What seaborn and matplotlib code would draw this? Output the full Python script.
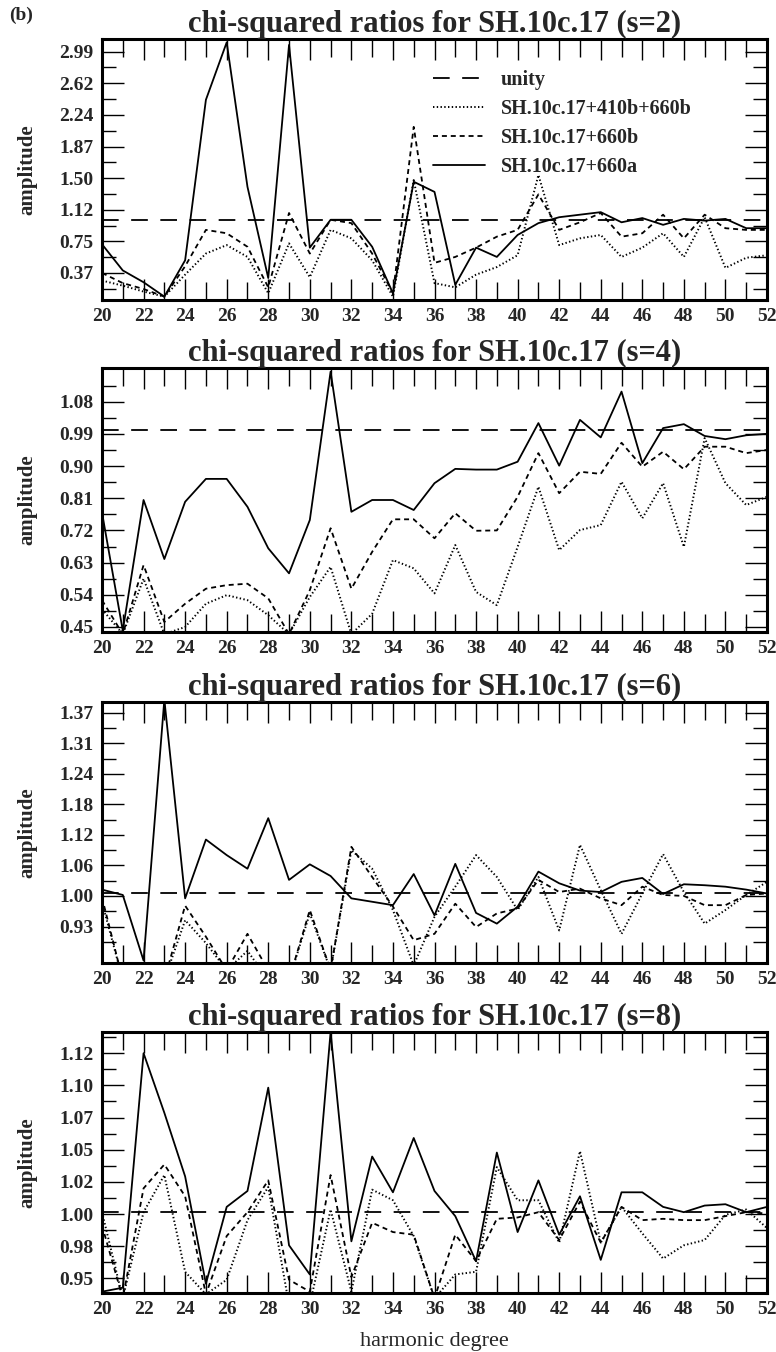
import numpy as np
import pandas as pd
import matplotlib
matplotlib.use("Agg")
import matplotlib.pyplot as plt
from matplotlib.ticker import FixedLocator
import seaborn as sns

sns.set_style("ticks")
plt.rcParams['font.family'] = ['Liberation Serif', 'DejaVu Serif']
plt.rcParams['font.weight'] = 'bold'
plt.rcParams['lines.scale_dashes'] = False

# ---------------- data ----------------
degree = [20, 21, 22, 23, 24, 25, 26, 27, 28, 29, 30, 31, 32, 33, 34, 35, 36,
          37, 38, 39, 40, 41, 42, 43, 44, 45, 46, 47, 48, 49, 50, 51, 52]

UNITY = 1.0
series_names = ["SH.10c.17+410b+660b", "SH.10c.17+660b", "SH.10c.17+660a"]

# s = 2
dotted_s2 = [0.28, 0.22, 0.15, 0.09, 0.35, 0.60, 0.70, 0.56, 0.13, 0.72, 0.32, 0.88, 0.78,
             0.52, 0.09, 1.47, 0.25, 0.20, 0.35, 0.44, 0.58, 1.53, 0.70, 0.78, 0.82, 0.56,
             0.67, 0.84, 0.56, 1.03, 0.43, 0.55, 0.58]
dashed_s2 = [0.37, 0.25, 0.18, 0.09, 0.45, 0.88, 0.84, 0.68, 0.20, 1.08, 0.60, 1.00, 0.96,
             0.60, 0.13, 2.10, 0.49, 0.56, 0.67, 0.80, 0.88, 1.30, 0.88, 0.97, 1.08, 0.80,
             0.84, 1.06, 0.78, 1.06, 0.90, 0.88, 0.88]
solid_s2 = [0.71, 0.40, 0.26, 0.09, 0.52, 2.42, 3.10, 1.39, 0.31, 3.07, 0.67, 1.00, 1.00,
            0.68, 0.13, 1.45, 1.33, 0.23, 0.67, 0.56, 0.82, 0.96, 1.03, 1.06, 1.09, 0.97,
            1.02, 0.94, 1.01, 0.99, 1.01, 0.90, 0.90]

# s = 4
dotted_s4 = [0.50, 0.43, 0.585, 0.43, 0.45, 0.515, 0.539, 0.525, 0.483, 0.43, 0.534, 0.618,
             0.43, 0.487, 0.637, 0.614, 0.544, 0.679, 0.548, 0.511, 0.674, 0.842, 0.665,
             0.721, 0.735, 0.856, 0.754, 0.852, 0.674, 0.978, 0.852, 0.791, 0.814]
dashed_s4 = [0.525, 0.43, 0.623, 0.464, 0.515, 0.557, 0.567, 0.571, 0.53, 0.43, 0.553, 0.726,
             0.557, 0.66, 0.751, 0.751, 0.698, 0.768, 0.719, 0.72, 0.814, 0.936, 0.824,
             0.884, 0.878, 0.965, 0.898, 0.94, 0.891, 0.954, 0.954, 0.936, 0.945]
solid_s4 = [0.77, 0.44, 0.805, 0.64, 0.80, 0.864, 0.864, 0.786, 0.67, 0.60, 0.749, 1.164,
            0.772, 0.805, 0.805, 0.777, 0.852, 0.892, 0.89, 0.89, 0.912, 1.02, 0.901,
            1.029, 0.98, 1.108, 0.908, 1.006, 1.017, 0.984, 0.975, 0.986, 0.99]

# s = 6
dotted_s6 = [0.98, 0.82, 0.82, 0.82, 0.943, 0.896, 0.84, 0.88, 0.82, 0.82, 0.957, 0.84,
             1.087, 1.049, 0.964, 0.85, 0.95, 1.012, 1.077, 1.032, 0.964, 1.032, 0.922,
             1.098, 1.005, 0.915, 0.998, 1.079, 1.001, 0.936, 0.964, 0.995, 1.022]
dashed_s6 = [0.99, 0.82, 0.82, 0.82, 0.973, 0.909, 0.84, 0.915, 0.84, 0.82, 0.964, 0.84,
             1.094, 1.032, 0.971, 0.902, 0.915, 0.977, 0.929, 0.957, 0.967, 1.026, 1.001,
             1.008, 0.988, 0.974, 1.012, 0.995, 0.993, 0.974, 0.974, 0.995, 0.998]
solid_s6 = [1.006, 0.995, 0.86, 1.397, 0.988, 1.109, 1.077, 1.049, 1.153, 1.026, 1.058,
            1.034, 0.988, 0.981, 0.974, 1.038, 0.953, 1.059, 0.958, 0.936, 0.971, 1.043,
            1.019, 1.004, 1.001, 1.022, 1.030, 0.997, 1.017, 1.015, 1.012, 1.006, 0.998]

# s = 8
dotted_s8 = [1.0, 0.935, 1.0, 1.028, 0.955, 0.938, 0.949, 0.994, 1.019, 0.93, 0.93, 1.002,
             0.94, 1.017, 1.009, 0.982, 0.935, 0.953, 0.955, 1.034, 1.009, 1.009, 0.977,
             1.046, 0.977, 1.004, 0.984, 0.965, 0.975, 0.979, 0.998, 1.002, 0.988]
dashed_s8 = [0.99, 0.935, 1.018, 1.036, 1.012, 0.938, 0.982, 1.0, 1.024, 0.949, 0.94, 1.028,
             0.951, 0.992, 0.985, 0.983, 0.935, 0.983, 0.963, 0.995, 0.996, 1.0, 0.979,
             1.008, 0.977, 1.004, 0.994, 0.995, 0.994, 0.994, 0.997, 1.0, 0.999]
solid_s8 = [0.94, 0.943, 1.12, 1.075, 1.027, 0.946, 1.004, 1.016, 1.094, 0.975, 0.953, 1.136,
            0.978, 1.042, 1.015, 1.056, 1.016, 0.997, 0.963, 1.045, 0.985, 1.024, 0.983,
            1.012, 0.964, 1.015, 1.015, 1.004, 1.0, 1.005, 1.006, 1.0, 1.004]

# tick labels (evenly spaced between first and last, as in the original)
yticks_s2 = ["0.37", "0.75", "1.12", "1.50", "1.87", "2.24", "2.62", "2.99"]
yticks_s4 = ["0.45", "0.54", "0.63", "0.72", "0.81", "0.90", "0.99", "1.08"]
yticks_s6 = ["0.93", "1.00", "1.06", "1.12", "1.18", "1.24", "1.31", "1.37"]
yticks_s8 = ["0.95", "0.98", "1.00", "1.02", "1.05", "1.07", "1.10", "1.12"]

xticks_major = [20, 22, 24, 26, 28, 30, 32, 34, 36, 38, 40, 42, 44, 46, 48, 50, 52]

panels = [
    ("2", dotted_s2, dashed_s2, solid_s2, yticks_s2, (0.05, 3.14)),
    ("4", dotted_s4, dashed_s4, solid_s4, yticks_s4, (0.436, 1.174)),
    ("6", dotted_s6, dashed_s6, solid_s6, yticks_s6, (0.855, 1.392)),
    ("8", dotted_s8, dashed_s8, solid_s8, yticks_s8, (0.939, 1.136)),
]

# ---------------- layout ----------------
W, H = 776, 1352
fig = plt.figure(figsize=(W / 100, H / 100), dpi=100)
left_px, right_px = 102, 767
tops = [39, 368, 702, 1032]
bottoms = [300, 632, 963, 1293]

styles = {
    "dotted": (0, (1.0, 1.7)),
    "dashed": (0, (3.6, 2.8)),
    "solid": "-",
    "unity": (0, (12, 9)),
}

for i, (s, dotted, dashed, solid, yt, ylim) in enumerate(panels):
    ax = fig.add_axes([left_px / W, 1 - bottoms[i] / H,
                       (right_px - left_px) / W, (bottoms[i] - tops[i]) / H])
    ax.axhline(UNITY, color="black", lw=1.3, linestyle=styles["unity"], label="unity")
    for vals, key, name in [(dotted, "dotted", series_names[0]),
                            (dashed, "dashed", series_names[1]),
                            (solid, "solid", series_names[2])]:
        df = pd.DataFrame({"degree": degree, "amplitude": vals})
        sns.lineplot(data=df, x="degree", y="amplitude", ax=ax, color="black",
                     linewidth=1.3 if key != "dotted" else 1.4,
                     linestyle=styles[key], label=name)
    ax.set_xlim(20, 52)
    ax.set_ylim(*ylim)
    ax.xaxis.set_major_locator(FixedLocator(xticks_major))
    ax.xaxis.set_minor_locator(FixedLocator([d for d in degree if d % 2 == 1]))
    ypos = np.linspace(float(yt[0]), float(yt[-1]), len(yt))
    ax.yaxis.set_major_locator(FixedLocator(ypos))
    step = ypos[1] - ypos[0]
    minors = np.concatenate([[ypos[0] - step / 2], ypos[:-1] + step / 2, [ypos[-1] + step / 2]])
    ax.yaxis.set_minor_locator(FixedLocator(minors))
    ax.set_yticklabels(yt)
    ax.set_xticklabels([str(v) for v in xticks_major])
    ax.tick_params(axis="both", which="both", direction="in", top=True, right=True,
                   labelsize=14, color="black")
    ax.tick_params(axis="x", which="major", length=15, width=1.0, pad=6)
    ax.tick_params(axis="x", which="minor", length=13, width=1.0)
    ax.tick_params(axis="y", which="major", length=16, width=1.0, pad=6)
    ax.tick_params(axis="y", which="minor", length=10, width=1.0)
    for sp in ax.spines.values():
        sp.set_linewidth(2.2)
        sp.set_color("black")
    ax.set_title(f"chi-squared ratios for SH.10c.17 (s={s})", fontsize=22,
                 fontweight="bold", pad=3)
    ax.set_ylabel("amplitude", fontsize=15, fontweight="bold")
    ax.yaxis.set_label_coords(-0.097, 0.5)
    if i == 3:
        ax.set_xlabel("harmonic degree", fontsize=16, fontweight="normal", labelpad=10)
    else:
        ax.set_xlabel("")
    handles, labels = ax.get_legend_handles_labels()
    if i == 0:
        order = ["unity"] + series_names
        hmap = dict(zip(labels, handles))
        ax.legend([hmap[k] for k in order], order, loc="upper left",
                  bbox_to_anchor=(0.497, 0.882), frameon=False, fontsize=14.5,
                  handlelength=2.6, handletextpad=0.8, labelspacing=0.45,
                  borderpad=0, borderaxespad=0)
    else:
        if ax.get_legend() is not None:
            ax.get_legend().remove()

fig.text(9 / W, 1 - 15 / H, "(b)", fontsize=14, fontweight="bold",
         ha="left", va="center")

fig.savefig("out.png", dpi=100)
